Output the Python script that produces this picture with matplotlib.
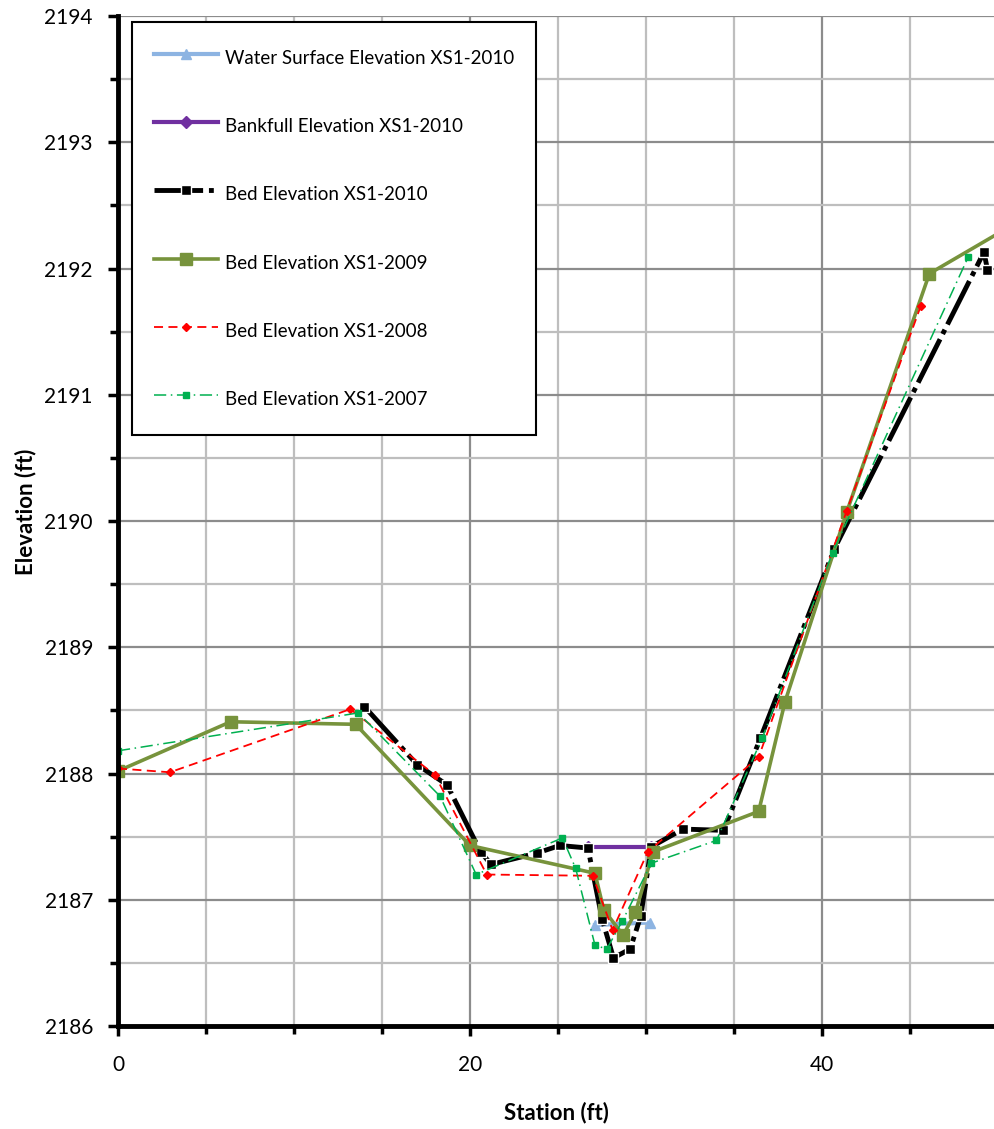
"""
Cross-section XS1: bed, bankfull and water surface elevations by survey year.
"""
import matplotlib
matplotlib.use("Agg")
import matplotlib.pyplot as plt
from matplotlib.ticker import MultipleLocator

plt.rcParams['font.family'] = ['Lato', 'DejaVu Sans']

# survey data (station ft, elevation ft)
water_x = [27.1, 30.2]
water_y = [2186.80, 2186.82]

bankfull_x = [26.7, 30.3]
bankfull_y = [2187.42, 2187.42]

bed2010_x = [14.0, 17.0, 18.7, 20.6, 21.2, 23.8, 25.1, 26.7, 27.5, 28.15, 29.1, 29.7,
             30.3, 32.1, 34.4, 36.5, 40.7, 49.2, 49.4]
bed2010_y = [2188.53, 2188.07, 2187.91, 2187.38, 2187.28, 2187.37, 2187.43, 2187.41,
             2186.85, 2186.54, 2186.61, 2186.87, 2187.42, 2187.56, 2187.55, 2188.28,
             2189.78, 2192.13, 2191.99]

bed2009_x = [0, 6.4, 13.5, 20.0, 27.1, 27.6, 28.7, 29.4, 30.4, 36.4, 37.9, 41.4, 46.1, 52.0]
bed2009_y = [2188.02, 2188.41, 2188.39, 2187.43, 2187.21, 2186.92, 2186.72, 2186.90,
             2187.38, 2187.70, 2188.57, 2190.07, 2191.96, 2192.44]

bed2008_x = [0, 2.95, 13.2, 18.0, 20.95, 26.97, 28.1, 30.1, 36.4, 41.4, 45.6]
bed2008_y = [2188.04, 2188.01, 2188.51, 2187.99, 2187.20, 2187.19, 2186.76, 2187.38,
             2188.13, 2190.08, 2191.70]

bed2007_x = [0, 13.65, 18.3, 20.35, 25.25, 26.0, 27.1, 27.77, 28.65, 30.3, 34.0, 36.6,
             40.6, 48.3]
bed2007_y = [2188.18, 2188.48, 2187.82, 2187.20, 2187.49, 2187.25, 2186.64, 2186.61,
             2186.83, 2187.29, 2187.47, 2188.28, 2189.75, 2192.09]

fig = plt.figure(figsize=(9.94, 11.29), dpi=100)
ax = fig.add_axes([0.1187, 0.0912, 0.8813, 0.8946])

ax.plot(water_x, water_y, color='#8DB4E2', lw=3, marker='^', ms=7,
        label='Water Surface Elevation XS1-2010')
ax.plot(bankfull_x, bankfull_y, color='#7030A0', lw=3, marker='D', ms=6,
        label='Bankfull Elevation XS1-2010')
ax.plot(bed2010_x, bed2010_y, color='black', lw=3.5, ls=(0, (10, 1.2, 1, 1.2)),
        marker='s', ms=7, mfc='black', mec='white', mew=1,
        label='Bed Elevation XS1-2010')
ax.plot(bed2009_x, bed2009_y, color='#77933C', lw=2.6, marker='s', ms=8,
        label='Bed Elevation XS1-2009')
ax.plot(bed2008_x, bed2008_y, color='#FF0000', lw=1.3, ls=(0, (5, 3)),
        marker='D', ms=4, label='Bed Elevation XS1-2008')
ax.plot(bed2007_x, bed2007_y, color='#00B050', lw=1.1, ls=(0, (8, 3, 1, 3)),
        marker='s', ms=5, label='Bed Elevation XS1-2007')

ax.set_xlim(0, 49.77)
ax.set_ylim(2186, 2194)
ax.xaxis.set_major_locator(MultipleLocator(20))
ax.xaxis.set_minor_locator(MultipleLocator(5))
ax.yaxis.set_major_locator(MultipleLocator(1))
ax.yaxis.set_minor_locator(MultipleLocator(0.5))

ax.grid(which='major', color='#8C8C8C', lw=1.6)
ax.grid(which='minor', color='#BEBEBE', lw=1.6)
ax.set_axisbelow(True)

for side in ('top', 'right'):
    ax.spines[side].set_visible(False)
for side in ('left', 'bottom'):
    ax.spines[side].set_linewidth(3.5)
    ax.spines[side].set_zorder(5)

ax.tick_params(which='both', direction='out', width=2.5, labelsize=15)
ax.tick_params(which='major', length=7)
ax.tick_params(which='minor', length=6)
ax.tick_params(axis='x', which='major', pad=14)
ax.tick_params(axis='y', which='major', pad=11)

ax.set_xlabel('Station (ft)', fontsize=16, fontweight='bold', va='center')
ax.set_ylabel('Elevation (ft)', fontsize=16, fontweight='bold', va='center')
ax.xaxis.set_label_coords(0.5, -0.086)
ax.yaxis.set_label_coords(-0.106, 0.509)

leg = ax.legend(loc='upper left', bbox_to_anchor=(0.016, 0.994), fontsize=13.5,
                frameon=True, fancybox=False, edgecolor='black', framealpha=1,
                labelspacing=2.16, handleheight=1.9, handlelength=3.4,
                handletextpad=0.37, borderpad=1.17, borderaxespad=0)
leg.get_frame().set_linewidth(1.5)
leg.set_zorder(10)

fig.savefig('out.png', dpi=100)
